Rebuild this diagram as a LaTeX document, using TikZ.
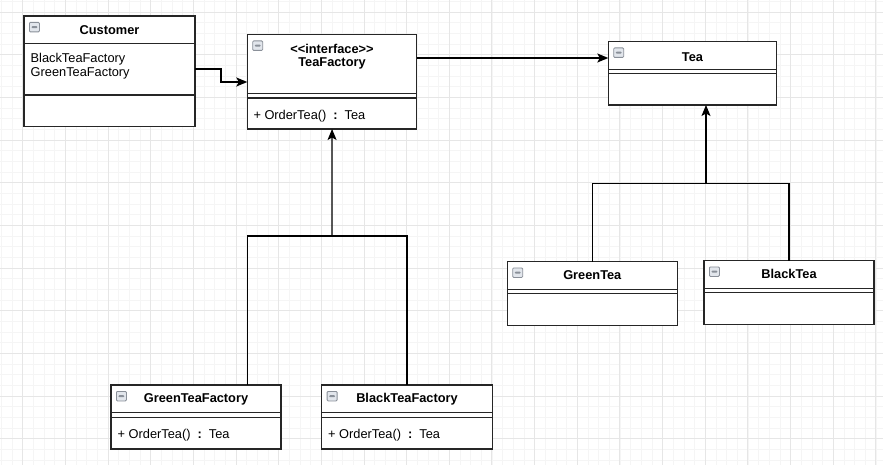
\documentclass[tikz,border=0pt]{standalone}
\usepackage{fontspec}
\setmainfont{Liberation Sans}
\usetikzlibrary{arrows.meta}
\usetikzlibrary{calc}

\definecolor{gridMinor}{HTML}{F5F5F5}
\definecolor{gridMajor}{HTML}{E6E6E6}
\definecolor{boxLine}{HTML}{262626}
\definecolor{iconLine}{HTML}{8A9099}
\definecolor{iconFill}{HTML}{E2E6EC}

\tikzset{
  classbox/.style={draw=boxLine,line width=1.2pt,fill=white,inner sep=0pt,outer sep=0pt,anchor=north west},
  classtitle/.style={font=\fontsize{12.8}{15}\selectfont\bfseries,inner sep=0pt,align=center},
  classtext/.style={font=\fontsize{12.8}{15}\selectfont,inner sep=0pt,anchor=west},
  sepline/.style={draw=boxLine,line width=1.2pt},
  collapseicon/.style={draw=iconLine,fill=iconFill,rounded corners=1pt,line width=0.8pt,
    minimum width=10pt,minimum height=9.5pt,inner sep=0pt,anchor=north west,
    path picture={\fill[iconLine] ([xshift=2pt,yshift=-1pt]path picture bounding box.west)
      rectangle ([xshift=-2pt,yshift=1pt]path picture bounding box.east);}},
  joinline/.style={draw=black,line width=1.2pt},
  arrowline/.style={draw=black,line width=1.2pt,-{Stealth[length=11pt,width=9pt,inset=2.5pt]}},
  gridminor/.style={draw=gridMinor,line width=0.9pt},
  gridmajor/.style={draw=gridMajor,line width=0.9pt}
}

\begin{document}
\begin{tikzpicture}[x=1pt,y=-1pt]
  \useasboundingbox (0,0) rectangle (883,465);
  % background grid
  \begin{scope}
    \clip (0,0) rectangle (883,465);
    \foreach \gx in {1.33,12,...,884} \draw[gridminor] (\gx,0) -- (\gx,465);
    \foreach \gy in {1.33,12,...,466} \draw[gridminor] (0,\gy) -- (883,\gy);
    \foreach \gx in {22.67,65.33,...,884} \draw[gridmajor] (\gx,0) -- (\gx,465);
    \foreach \gy in {12,54.67,...,466} \draw[gridmajor] (0,\gy) -- (883,\gy);
  \end{scope}

  % classes
  \node[classbox,minimum width=171,minimum height=110.5] (customer) at (24,16) {};
  \node[classbox,minimum width=169.5,minimum height=94.5] (teaFactory) at (247.3,34.5) {};
  \node[classbox,minimum width=168.5,minimum height=63.5] (tea) at (608.3,41.5) {};
  \node[classbox,minimum width=170,minimum height=64] (greenTea) at (507.3,261.5) {};
  \node[classbox,minimum width=170,minimum height=64] (blackTea) at (704,260.5) {};
  \node[classbox,minimum width=170,minimum height=64] (greenTeaFactory) at (111,385) {};
  \node[classbox,minimum width=170.5,minimum height=64] (blackTeaFactory) at (321.7,385) {};

  % compartments
  \draw[sepline] (customer.west |- 0,43.5) -- (customer.east |- 0,43.5);
  \draw[sepline] (customer.west |- 0,95) -- (customer.east |- 0,95);
  \foreach \cls/\ya in {teaFactory/93.7,tea/69.3,greenTea/289.3,blackTea/288.3,greenTeaFactory/412.7,blackTeaFactory/412.7} {
    \draw[sepline] (\cls.west |- 0,\ya) -- (\cls.east |- 0,\ya);
    \draw[sepline] ($(\cls.west |- 0,\ya)+(0,4.4)$) -- ($(\cls.east |- 0,\ya)+(0,4.4)$);
  }

  % collapse icons
  \foreach \cls in {customer,teaFactory,tea,greenTea,blackTea,greenTeaFactory,blackTeaFactory}
    \node[collapseicon] (\cls Icon) at ($(\cls.north west)+(5,6)$) {};

  % texts
  \node[classtitle] (customerTitle) at (109.5,30) {Customer};
  \node[classtext] (customerAttrA) at (30.5,59) {BlackTeaFactory};
  \node[classtext] (customerAttrB) at (30.5,73.3) {GreenTeaFactory};
  \node[classtitle] (teaFactoryStereo) at (332,48.7) {<{}<interface>{}>};
  \node[classtitle] (teaFactoryTitle) at (332,63.3) {TeaFactory};
  \node[classtext] (teaFactoryOp) at (253.3,116.3) {+ OrderTea()\hspace{7pt}\textbf{:}\hspace{7pt}Tea};
  \node[classtitle] (teaTitle) at (692.5,56.7) {Tea};
  \node[classtitle] (greenTeaTitle) at (592.3,275) {GreenTea};
  \node[classtitle] (blackTeaTitle) at (789,274.3) {BlackTea};
  \node[classtitle] (greenTeaFactoryTitle) at (196,399.3) {GreenTeaFactory};
  \node[classtext] (greenTeaFactoryOp) at (117.5,435) {+ OrderTea()\hspace{7pt}\textbf{:}\hspace{7pt}Tea};
  \node[classtitle] (blackTeaFactoryTitle) at (407,399.3) {BlackTeaFactory};
  \node[classtext] (blackTeaFactoryOp) at (328,435) {+ OrderTea()\hspace{7pt}\textbf{:}\hspace{7pt}Tea};

  % connectors
  \coordinate (customerBend) at (221,69);
  \draw[arrowline] (customer.east |- customerBend) -- (customerBend) |- (teaFactory.west |- 0,82);
  \draw[arrowline] (teaFactory.east |- 0,58) -- (tea.west |- 0,58);
  \coordinate (teaJoin) at (706,183.5);
  \draw[joinline] (greenTea.north) |- (teaJoin) -| (blackTea.north);
  \draw[arrowline] (teaJoin) -- (tea.south -| teaJoin);
  \coordinate (factoryJoin) at (332,236);
  \draw[joinline] (greenTeaFactory.north -| teaFactory.west) |- (factoryJoin) -| (blackTeaFactory.north);
  \draw[arrowline] (factoryJoin) -- (teaFactory.south);
\end{tikzpicture}
\end{document}
